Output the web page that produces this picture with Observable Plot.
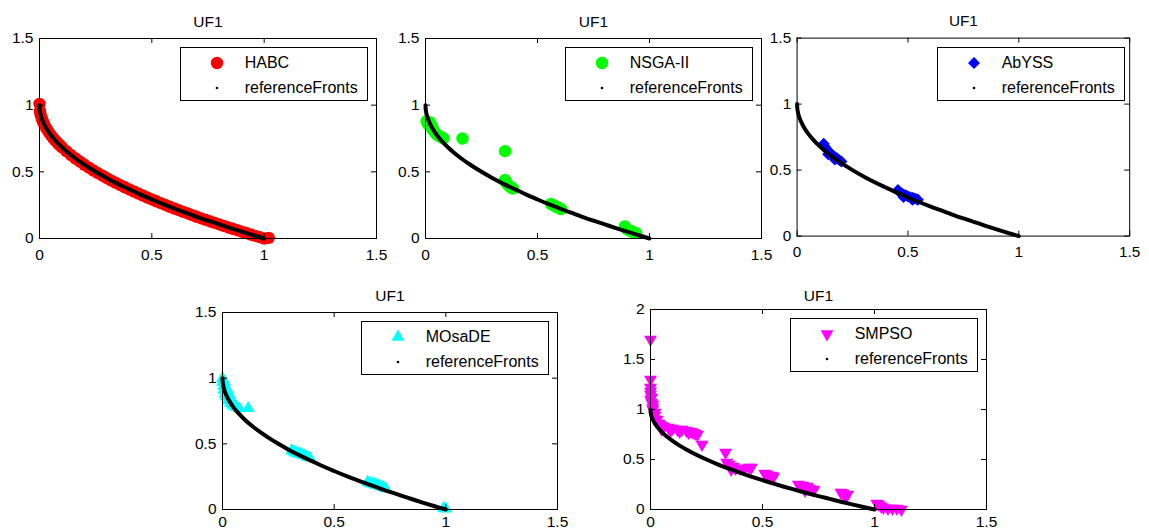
<!DOCTYPE html>
<html><head><meta charset="utf-8">
<script src="https://cdn.jsdelivr.net/npm/d3@7"></script>
<script src="https://cdn.jsdelivr.net/npm/@observablehq/plot@0.6"></script>
<style>
body{margin:0;background:#fff;}
#chart{position:relative;width:1149px;height:532px;overflow:hidden;background:#fff;font-family:"Liberation Sans",Arial,Helvetica,sans-serif;}
.panel{position:absolute;}
.panel svg{overflow:visible;}
.legend{position:absolute;background:#fff;border:1px solid #000;box-sizing:border-box;width:188px;height:54px;font-size:16px;color:#000;}
.legend svg{position:absolute;}
.legend span{position:absolute;line-height:18px;white-space:nowrap;}
</style></head><body><div id="chart"></div><script>
// ---- data ----
const title = "UF1";
const refLabel = "referenceFronts";
const xTicks = [0, 0.5, 1, 1.5];
const yTicks = [0, 0.5, 1, 1.5];
const yTicks5 = [0, 0.5, 1, 1.5, 2];

const refX = [0,0.001,0.003,0.006,0.01,0.02,0.03,0.05,0.07,0.1,0.13,0.16,0.2,0.25,0.3,0.35,0.4,0.45,0.5,0.55,0.6,0.65,0.7,0.75,0.8,0.85,0.9,0.95,1.0];
const refY = [1,0.968,0.945,0.923,0.90,0.859,0.827,0.776,0.735,0.684,0.639,0.60,0.553,0.50,0.452,0.408,0.368,0.329,0.293,0.258,0.225,0.194,0.163,0.134,0.106,0.078,0.051,0.025,0];

const habcX = [0,0.002,0.005,0.01,0.015,0.02,0.03,0.04,0.05,0.06,0.07,0.08,0.09,0.1,0.12,0.14,0.16,0.18,0.2,0.22,0.24,0.26,0.28,0.3,0.32,0.34,0.36,0.38,0.4,0.42,0.44,0.46,0.48,0.5,0.52,0.54,0.56,0.58,0.6,0.62,0.64,0.66,0.68,0.7,0.72,0.74,0.76,0.78,0.8,0.82,0.84,0.86,0.88,0.9,0.92,0.94,0.96,0.98,1.0,1.02];
const habcY = [1.01,0.955,0.929,0.90,0.878,0.859,0.827,0.80,0.776,0.755,0.735,0.717,0.70,0.684,0.654,0.626,0.60,0.576,0.553,0.531,0.51,0.49,0.471,0.452,0.434,0.417,0.40,0.384,0.368,0.352,0.337,0.322,0.307,0.293,0.279,0.265,0.252,0.238,0.225,0.213,0.20,0.188,0.175,0.163,0.151,0.14,0.128,0.117,0.106,0.094,0.083,0.073,0.062,0.051,0.041,0.03,0.02,0.01,0.0,0.005];

const nsgaX = [0.005,0.01,0.02,0.03,0.03,0.04,0.05,0.06,0.07,0.08,0.165,0.355,0.355,0.36,0.37,0.38,0.39,0.56,0.57,0.58,0.59,0.6,0.605,0.89,0.9,0.91,0.92,0.93,0.94];
const nsgaY = [0.88,0.86,0.87,0.84,0.82,0.80,0.78,0.77,0.76,0.75,0.75,0.655,0.44,0.42,0.40,0.385,0.375,0.26,0.25,0.24,0.235,0.225,0.22,0.09,0.07,0.06,0.055,0.045,0.04];

const abyssX = [0.12,0.125,0.13,0.14,0.14,0.15,0.16,0.17,0.17,0.18,0.19,0.2,0.455,0.46,0.47,0.48,0.48,0.49,0.5,0.51,0.52,0.52,0.53,0.54,0.545];
const abyssY = [0.70,0.68,0.665,0.645,0.62,0.63,0.615,0.60,0.58,0.59,0.575,0.565,0.35,0.335,0.325,0.315,0.295,0.31,0.30,0.295,0.29,0.275,0.285,0.28,0.275];

const mosadeX = [0,0,0.005,0.005,0.01,0.01,0.015,0.02,0.025,0.03,0.035,0.04,0.045,0.05,0.06,0.075,0.115,0.31,0.32,0.33,0.34,0.35,0.36,0.37,0.38,0.39,0.65,0.66,0.67,0.68,0.69,0.70,0.71,0.72,0.73,0.99,1.0];
const mosadeY = [1.0,0.97,0.94,0.91,0.97,0.88,0.86,0.92,0.83,0.88,0.81,0.84,0.80,0.79,0.78,0.77,0.77,0.45,0.44,0.43,0.425,0.42,0.415,0.41,0.40,0.395,0.21,0.20,0.195,0.19,0.185,0.18,0.175,0.17,0.16,0.01,0.005];

const smpsoX = [0,0,0,0,0,0.005,0,0.005,0.01,0.01,0.01,0.02,0.02,0.03,0.04,0.05,0.05,0.06,0.08,0.09,0.10,0.12,0.13,0.14,0.16,0.17,0.18,0.19,0.2,0.21,0.23,0.335,0.34,0.35,0.36,0.37,0.38,0.40,0.42,0.44,0.45,0.51,0.52,0.53,0.54,0.55,0.66,0.68,0.69,0.70,0.71,0.73,0.85,0.86,0.87,0.88,1.01,1.02,1.03,1.04,1.06,1.08,1.10,1.12];
const smpsoY = [1.70,1.30,1.22,1.18,1.15,1.12,1.10,1.07,1.05,1.02,1.0,0.97,0.94,0.90,0.86,0.84,0.80,0.83,0.82,0.79,0.81,0.80,0.78,0.80,0.79,0.77,0.78,0.77,0.76,0.75,0.65,0.57,0.47,0.45,0.40,0.43,0.41,0.41,0.41,0.42,0.42,0.36,0.35,0.32,0.34,0.33,0.25,0.24,0.19,0.23,0.21,0.20,0.17,0.16,0.13,0.15,0.06,0.05,0.03,0.02,0.01,0.01,0.01,0.0];

// ---- symbols ----
const triangleDown = {draw(ctx, size){ const y = -Math.sqrt(size/(Math.sqrt(3)*3)); ctx.moveTo(0,-2*y); ctx.lineTo(-Math.sqrt(3)*y, y); ctx.lineTo(Math.sqrt(3)*y, y); ctx.closePath(); }};

const panels = [
  {name:"HABC", x:habcX, y:habcY, color:"#ff0000", symbol:"circle", d3sym:d3.symbolCircle, r:6.2, L:39, R:376, T:38, B:238, yDomain:[0,1.5], yt:yTicks, tdy:-23, pad:10},
  {name:"NSGA-II", x:nsgaX, y:nsgaY, color:"#00ff00", symbol:"circle", d3sym:d3.symbolCircle, r:6.2, L:425, R:761, T:38, B:238, yDomain:[0,1.5], yt:yTicks, tdy:-23, pad:10},
  {name:"AbYSS", x:abyssX, y:abyssY, color:"#0000ff", symbol:"diamond2", d3sym:d3.symbolDiamond2, r:5.4, L:797, R:1133, T:38, B:238, yDomain:[0,1.5], yt:yTicks, tdy:-23, pad:10},
  {name:"MOsaDE", x:mosadeX, y:mosadeY, color:"#00ffff", symbol:"triangle", d3sym:d3.symbolTriangle, r:4.8, L:222, R:557, T:312, B:509, yDomain:[0,1.5], yt:yTicks, tdy:-23, pad:6},
  {name:"SMPSO", x:smpsoX, y:smpsoY, color:"#ff00ff", symbol:triangleDown, d3sym:triangleDown, r:4.8, L:650, R:986, T:309, B:509, yDomain:[0,2], yt:yTicks5, tdy:-20, pad:6}
];

const chart = document.getElementById("chart");
const fmt = d => String(d);
const ref = refX.map((x,i)=>({x, y:refY[i]}));

for (const p of panels) {
  const fw = p.R - p.L, fh = p.B - p.T;
  const mL = 40, mT = 38, mR = 20, mB = 30;
  const pts = p.x.map((x,i)=>({x, y:p.y[i]}));
  const svg = Plot.plot({
    width: fw + mL + mR, height: fh + mT + mB,
    marginLeft: mL, marginTop: mT, marginRight: mR, marginBottom: mB,
    style: {fontFamily:'"Liberation Sans",Arial,sans-serif', fontSize:"15.5px", color:"#000", background:"transparent", overflow:"visible"},
    x: {domain:[0,1.5], label:null},
    y: {domain:p.yDomain, label:null},
    marks: [
      Plot.dot(pts, {x:"x", y:"y", symbol:p.symbol, r:p.r, fill:p.color, stroke:"none"}),
      Plot.line(ref, {x:"x", y:"y", stroke:"#000", strokeWidth:4, curve:"catmull-rom"}),
      Plot.frame({stroke:"#000", strokeWidth:1}),
      Plot.ruleX(xTicks, {stroke:"#000", insetTop: fh - 5}),
      Plot.ruleX(xTicks, {stroke:"#000", insetBottom: fh - 5}),
      Plot.ruleY(p.yt, {stroke:"#000", insetRight: fw - 5}),
      Plot.ruleY(p.yt, {stroke:"#000", insetLeft: fw - 5}),
      Plot.axisX(xTicks, {tickSize:0, tickPadding:p.pad, tickFormat:fmt, label:null, fontSize:15.5}),
      Plot.axisY(p.yt, {tickSize:0, tickPadding:6, tickFormat:fmt, label:null, fontSize:15.5}),
      Plot.text([title], {frameAnchor:"top", dy:p.tdy, fontSize:15.5, fill:"#000"})
    ]
  });
  const div = document.createElement("div");
  div.className = "panel";
  div.style.left = (p.L - mL) + "px";
  div.style.top = (p.T - mT) + "px";
  div.appendChild(svg);
  chart.appendChild(div);

  // legend
  const lg = document.createElement("div");
  lg.className = "legend";
  lg.style.left = (p.R - 8 - 188) + "px";
  lg.style.top = (p.T + 9) + "px";
  const size = Math.PI * p.r * p.r;
  const path = d3.symbol(p.d3sym, size)();
  lg.innerHTML =
    `<svg width="30" height="30" style="left:${36.7-15-1}px;top:${16-15-1}px"><path transform="translate(15,15)" d="${path}" fill="${p.color}"/></svg>` +
    `<span style="left:${65.7-2}px;top:${16-9-1}px">${p.name}</span>` +
    `<svg width="10" height="10" style="left:${36.7-5-1}px;top:${41-5-1}px"><circle cx="5" cy="5" r="1.3" fill="#000"/></svg>` +
    `<span style="left:${65.7-2}px;top:${41-9-1}px">${refLabel}</span>`;
  chart.appendChild(lg);
}
</script></body></html>
